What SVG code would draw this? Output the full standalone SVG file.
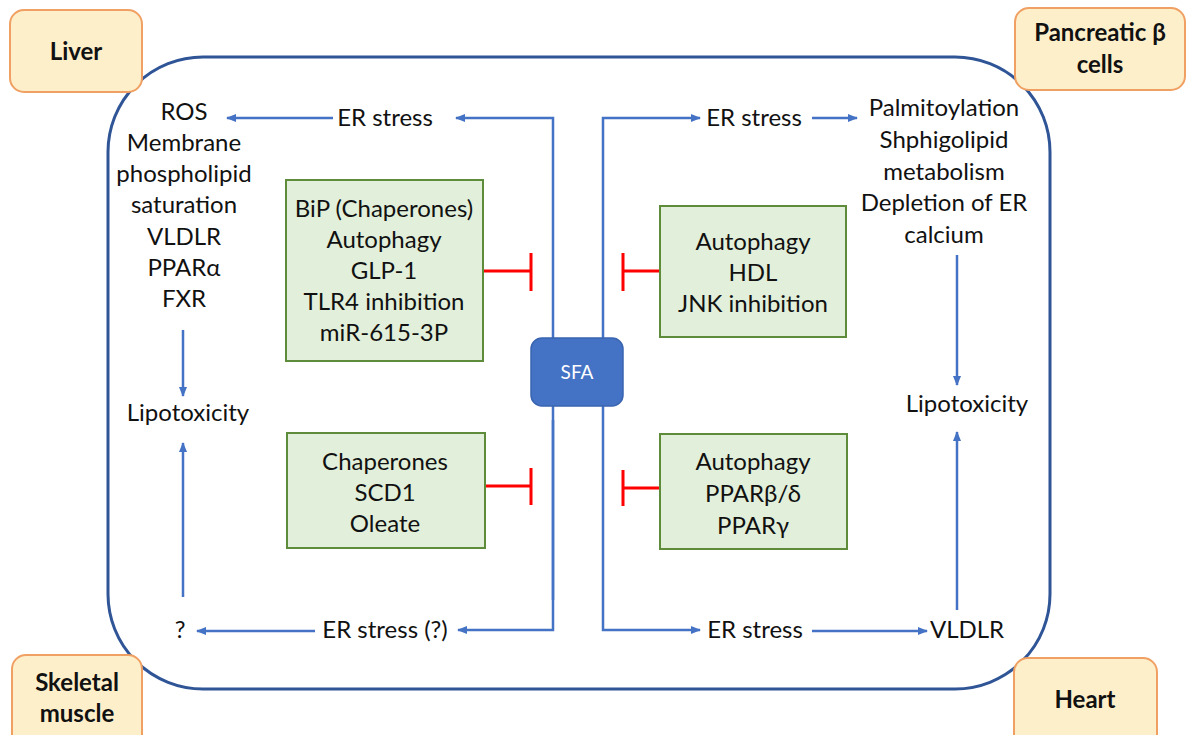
<svg xmlns="http://www.w3.org/2000/svg" width="1192" height="735" viewBox="0 0 1192 735">
<defs>
<marker id="ah" viewBox="0 0 10 8" refX="9" refY="4" markerWidth="10" markerHeight="8" markerUnits="userSpaceOnUse" orient="auto">
<path d="M0,0 L10,4 L0,8 Z" fill="#4472C4"/>
</marker>
<style>
.t{font-family:Lato,"Liberation Sans",sans-serif;font-size:24px;fill:#111;text-anchor:middle}
.lb{font-family:Lato,"Liberation Sans",sans-serif;font-size:24px;font-weight:bold;fill:#111;text-anchor:middle}
.org{fill:#FEEFCB;stroke:#F0A062;stroke-width:2}
.grn{fill:#E2EFDA;stroke:#5E8C3A;stroke-width:2}
.ln{fill:none;stroke:#4472C4;stroke-width:2.5}
.ar{fill:none;stroke:#4472C4;stroke-width:2.5;marker-end:url(#ah)}
.inh{fill:none;stroke:#FF0000;stroke-width:3}
</style>
</defs>
<rect x="0" y="0" width="1192" height="735" fill="#fff"/>
<g id="cell">
<rect x="108" y="57" width="942" height="632" rx="95" ry="95" fill="none" stroke="#2F5597" stroke-width="3"/>
</g>
<g id="connectors">
<polyline class="ar" points="553,600 553,118 456,118"/>
<polyline class="ar" points="553,420 553,630 458,630"/>
<polyline class="ar" points="603,338 603,118 700,118"/>
<polyline class="ar" points="603,406 603,630 700,630"/>
<line class="ar" x1="333" y1="118" x2="227" y2="118"/>
<line class="ar" x1="183" y1="330" x2="183" y2="396"/>
<line class="ar" x1="183" y1="597" x2="183" y2="443"/>
<line class="ar" x1="315" y1="631" x2="197" y2="631"/>
<line class="ar" x1="812" y1="118" x2="857" y2="118"/>
<line class="ar" x1="957" y1="255" x2="957" y2="385"/>
<line class="ar" x1="957" y1="610" x2="957" y2="432"/>
<line class="ar" x1="812" y1="631" x2="927" y2="631"/>
<path class="inh" d="M484,271 H531 M531,253 V291"/>
<path class="inh" d="M486,486 H531 M531,468 V505"/>
<path class="inh" d="M660,271 H623 M623,253 V291"/>
<path class="inh" d="M660,488 H623 M623,470 V506"/>
</g>
<g id="sfa">
<rect x="531" y="338" width="92" height="68" rx="11" fill="#4472C4" stroke="#3A64B0" stroke-width="1.5"/>
<text x="577" y="379" style="font-family:Lato,'Liberation Sans',sans-serif;font-size:19px;fill:#fff;text-anchor:middle">SFA</text>
</g>
<g id="liver">
<rect class="org" x="10" y="10" width="132" height="82" rx="14"/>
<text class="lb" x="76" y="60">Liver</text>
</g>
<g id="pancreas">
<rect class="org" x="1015" y="8" width="170" height="82" rx="14"/>
<text class="lb" x="1100" y="41">Pancreatic β</text>
<text class="lb" x="1100" y="73">cells</text>
</g>
<g id="skeletal">
<rect class="org" x="12" y="655" width="130" height="95" rx="14"/>
<text class="lb" x="77" y="691">Skeletal</text>
<text class="lb" x="77" y="722">muscle</text>
</g>
<g id="heart">
<rect class="org" x="1014" y="658" width="143" height="95" rx="14"/>
<text class="lb" x="1085" y="708">Heart</text>
</g>
<g id="liver-effects">
<text class="t" x="184" y="120">ROS</text>
<text class="t" x="184" y="151">Membrane</text>
<text class="t" x="184" y="182">phospholipid</text>
<text class="t" x="184" y="213">saturation</text>
<text class="t" x="184" y="245">VLDLR</text>
<text class="t" x="184" y="276">PPARα</text>
<text class="t" x="184" y="307">FXR</text>
</g>
<g id="liver-er"><text class="t" x="385" y="126">ER stress</text></g>
<g id="lipo-left"><text class="t" x="188" y="421">Lipotoxicity</text></g>
<g id="q"><text class="t" x="180" y="638">?</text></g>
<g id="muscle-er"><text class="t" x="385" y="638">ER stress (?)</text></g>
<g id="box1">
<rect class="grn" x="286" y="180" width="197" height="181"/>
<text class="t" x="384" y="217">BiP (Chaperones)</text>
<text class="t" x="384" y="248">Autophagy</text>
<text class="t" x="384" y="279">GLP-1</text>
<text class="t" x="384" y="310">TLR4 inhibition</text>
<text class="t" x="384" y="341">miR-615-3P</text>
</g>
<g id="box2">
<rect class="grn" x="287" y="433" width="198" height="115"/>
<text class="t" x="385" y="470">Chaperones</text>
<text class="t" x="385" y="501">SCD1</text>
<text class="t" x="385" y="532">Oleate</text>
</g>
<g id="box3">
<rect class="grn" x="660" y="206" width="186" height="131"/>
<text class="t" x="753" y="250">Autophagy</text>
<text class="t" x="753" y="281">HDL</text>
<text class="t" x="753" y="312">JNK inhibition</text>
</g>
<g id="box4">
<rect class="grn" x="660" y="434" width="187" height="115"/>
<text class="t" x="753" y="470">Autophagy</text>
<text class="t" x="753" y="502">PPARβ/δ</text>
<text class="t" x="753" y="534">PPARγ</text>
</g>
<g id="pancreas-er"><text class="t" x="754" y="126">ER stress</text></g>
<g id="pancreas-effects">
<text class="t" x="944" y="116">Palmitoylation</text>
<text class="t" x="944" y="148">Shphigolipid</text>
<text class="t" x="944" y="180">metabolism</text>
<text class="t" x="944" y="211">Depletion of ER</text>
<text class="t" x="944" y="243">calcium</text>
</g>
<g id="lipo-right"><text class="t" x="967" y="412">Lipotoxicity</text></g>
<g id="heart-er"><text class="t" x="755" y="638">ER stress</text></g>
<g id="vldlr"><text class="t" x="967" y="638">VLDLR</text></g>
</svg>
